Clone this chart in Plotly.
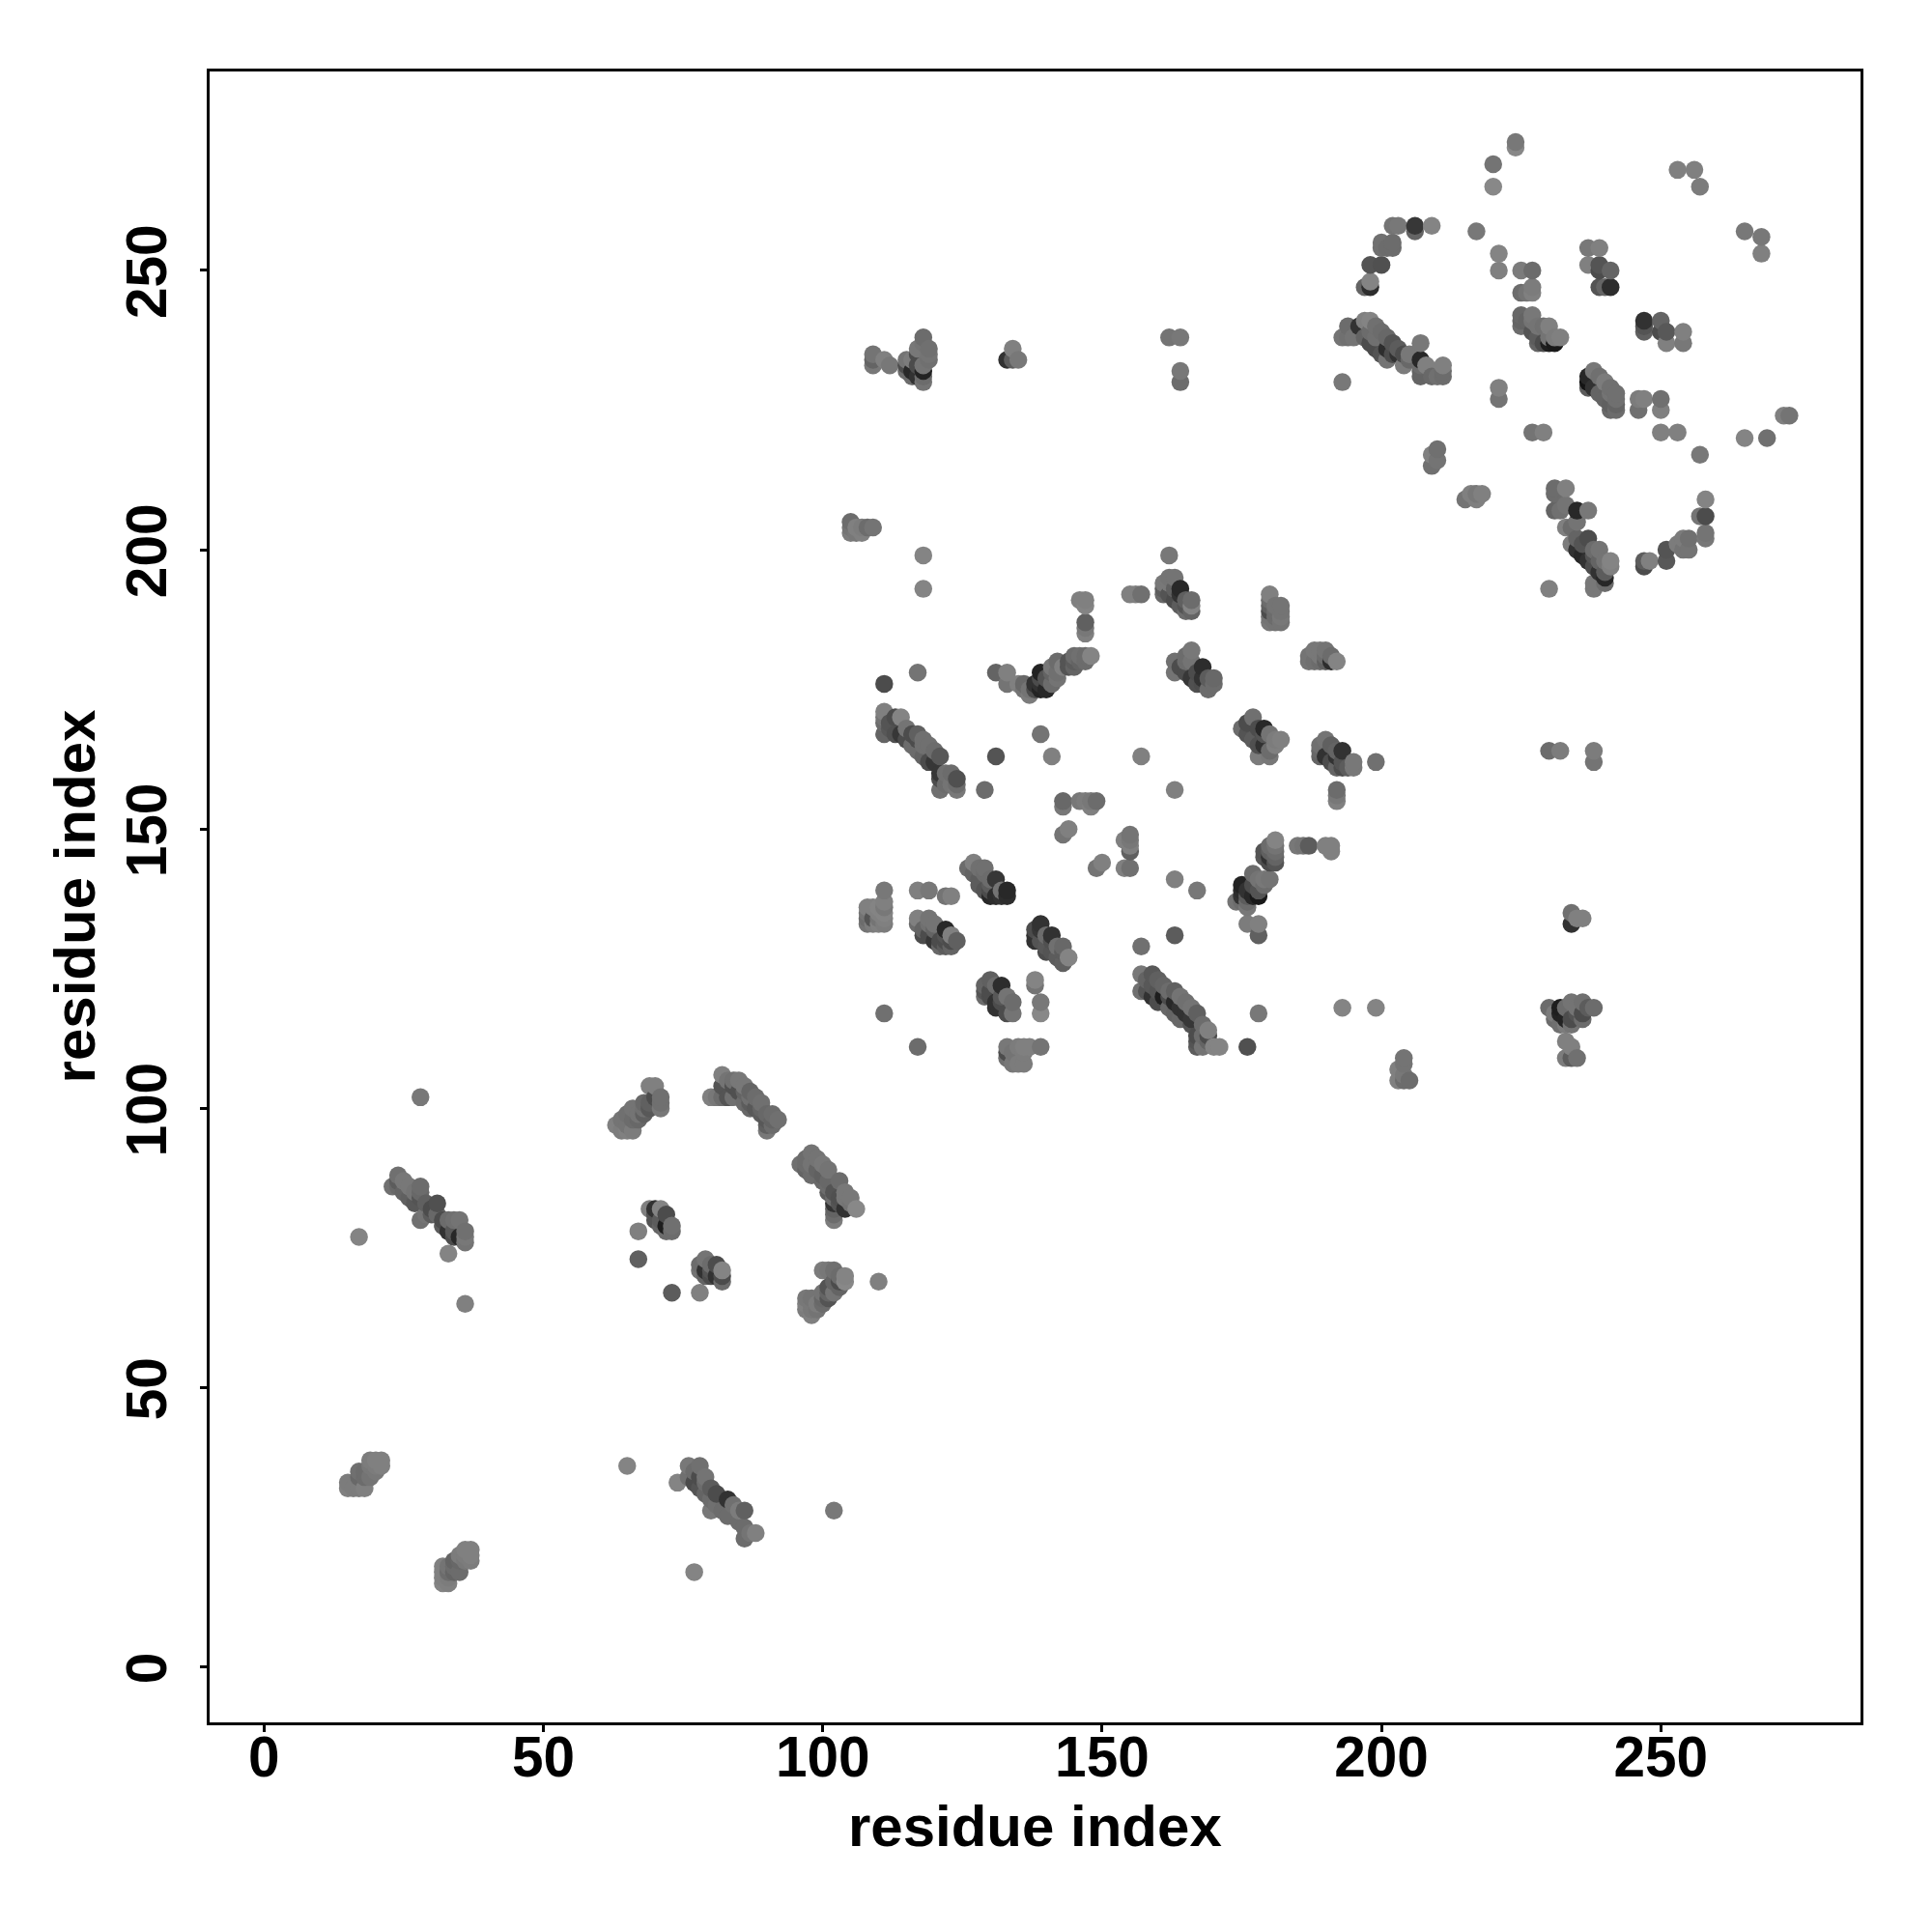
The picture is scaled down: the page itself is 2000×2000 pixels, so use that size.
import plotly.graph_objects as go

# Each contact: (residue index x, residue index y, grey level of the dot)
helix_a = [(15,32,125),(15,33,120),(16,32,120),(17,32,120),(18,32,125),(17,34,95),(18,34,100),(17,35,105),(18,35,100),(19,34,110),(19,36,115),(20,35,115),(20,36,120),(20,37,125),(19,37,120),(21,36,125),(21,37,125)]
helix_b = [(32,15,130),(33,15,125),(32,16,125),(33,16,120),(32,17,125),(32,18,125),(33,18,110),(34,17,90),(34,18,100),(34,19,90),(35,17,100),(35,19,95),(35,20,120),(36,19,115),(36,20,120),(36,21,125),(37,19,120),(37,20,125),(37,21,125),(33,17,100)]
strip_c = [(23,86,105),(24,86,95),(24,87,80),(24,88,105),(25,85,90),(25,87,115),(26,84,85),(26,86,115),(27,85,110),(27,83,75),(28,84,70),(28,85,95),(28,86,100),(29,83,85),(29,81,110),(28,80,105),(30,82,60),(30,81,80),(31,83,65),(31,81,95),(32,80,60),(32,79,80),(33,80,100),(33,78,50),(34,77,60),(34,78,75),(34,80,105),(35,77,40),(35,80,110),(36,76,110),(36,77,115),(36,78,105)]
lone_low = [(17,77,130),(28,102,115),(33,74,130),(36,65,125),(65,36,130),(77,17,130),(102,28,115),(67,78,125),(67,73,85),(73,67,80),(78,67,125),(110,69,125)]
strip_low_right = [(74,33,130),(76,34,105),(76,36,115),(77,33,60),(77,35,100),(78,32,70),(78,34,60),(78,36,105),(79,31,90),(79,33,100),(79,34,110),(80,28,115),(80,30,100),(80,32,80),(81,29,105),(81,31,60),(82,28,100),(83,27,100),(83,30,50),(84,29,105),(85,26,100),(85,28,120),(86,23,100),(86,25,100),(86,28,85),(87,24,110),(88,24,125)]
cluster_d = [(63,97,125),(64,96,120),(65,96,125),(64,98,110),(65,97,110),(66,96,120),(65,99,105),(66,98,100),(66,100,110),(67,98,95),(67,99,110),(68,99,85),(68,101,95),(68,100,105),(69,100,75),(69,101,85),(70,102,60),(69,104,125),(70,104,125),(71,100,115),(71,101,105),(71,102,105)]
strip_e = [(80,102,125),(81,102,115),(82,102,100),(82,104,70),(82,106,125),(83,102,70),(83,105,110),(84,102,105),(84,104,65),(84,105,105),(85,103,65),(85,105,115),(86,101,100),(86,103,90),(86,104,115),(87,100,95),(87,101,80),(87,102,105),(87,103,90),(88,100,75),(88,102,100),(89,99,80),(89,100,90),(89,101,105),(90,96,115),(90,97,85),(90,98,75),(90,99,95),(91,97,100),(91,98,90),(91,99,100),(92,98,105)]
strip_f = [(96,90,105),(97,89,90),(97,90,100),(97,91,100),(98,88,100),(98,90,110),(98,92,110),(99,89,90),(99,91,110),(100,87,95),(100,88,85),(100,90,115),(101,85,80),(101,86,100),(101,87,95),(101,89,110),(102,80,120),(102,81,100),(102,82,90),(102,83,50),(102,84,100),(102,85,70),(103,83,70),(103,84,65),(103,87,100),(104,82,50),(104,84,115),(104,85,115),(105,83,110),(105,84,115),(106,82,135)]
cluster_g = [(69,82,125),(70,80,70),(70,81,70),(70,82,50),(71,79,90),(71,80,80),(71,82,130),(72,78,100),(72,79,30),(72,81,60),(73,78,100),(73,79,105)]
cluster_h = [(78,71,110),(78,72,100),(79,70,90),(79,71,50),(79,73,110),(80,70,60),(80,71,70),(80,72,100),(81,70,50),(81,72,60),(82,69,100),(82,70,60),(82,71,130)]
cluster_i = [(97,64,120),(97,65,125),(97,66,115),(98,63,125),(98,64,115),(98,65,115),(98,66,110),(99,64,110),(99,65,120),(100,65,100),(100,66,95),(100,67,110),(100,71,120),(101,66,70),(101,67,90),(101,68,70),(101,71,115),(102,67,110),(102,69,90),(102,71,105),(103,68,90),(103,69,60),(103,70,100),(104,69,135),(104,70,130)]
cluster_j = [(108,133,110),(108,134,100),(108,135,110),(108,136,125),(109,133,120),(109,134,70),(109,136,125),(110,133,125),(110,134,110),(110,135,125),(110,136,130),(111,133,120),(111,134,125),(111,135,130),(111,136,115),(111,137,125),(111,139,115)]
cluster_k = [(117,133,100),(117,134,125),(118,131,60),(118,132,90),(119,131,60),(119,133,105),(119,134,110),(120,130,55),(120,132,90),(120,133,110),(121,129,95),(121,130,60),(122,129,80),(122,130,60),(122,131,70),(122,132,40),(123,129,90),(123,130,60),(123,131,125),(124,130,85)]
cluster_l = [(126,143,100),(127,142,90),(127,144,125),(128,140,80),(128,141,80),(128,143,105),(129,139,70),(129,142,100),(129,143,105),(130,138,40),(130,139,60),(130,140,80),(130,141,100),(131,138,45),(131,141,55),(132,138,50),(132,139,110),(133,138,45),(133,139,40)]
cluster_m = [(129,120,100),(129,121,70),(129,122,90),(130,120,60),(130,121,60),(130,123,85),(131,118,50),(131,119,50),(131,122,100),(132,118,50),(132,119,60),(132,120,75),(132,122,45),(133,117,60),(133,120,110),(134,117,110),(134,119,100)]
cluster_n = [(133,109,105),(133,110,60),(133,111,115),(134,108,115),(134,110,110),(135,108,120),(135,111,120),(136,108,120),(136,110,120),(136,111,125),(137,111,125),(139,111,110),(138,122,110),(138,123,130),(139,117,135),(139,119,115)]
cluster_o = [(138,130,50),(138,131,50),(138,132,60),(139,130,70),(139,132,55),(139,133,50),(140,128,60),(140,129,75),(140,131,100),(141,128,70),(141,130,65),(141,131,50),(142,127,80),(142,129,105),(143,126,85),(143,128,80),(143,129,95),(144,127,130)]
strip_p = [(157,121,105),(157,124,115),(158,121,70),(158,123,90),(159,120,50),(159,122,75),(159,124,75),(160,119,60),(160,121,70),(160,123,85),(161,120,30),(161,122,90),(162,118,95),(162,120,60),(162,121,100),(163,117,90),(163,119,40),(163,121,85),(164,116,95),(164,118,50),(164,120,110),(165,117,50),(165,119,105),(166,115,70),(166,116,55),(166,118,110),(167,111,80),(167,112,70),(167,113,60),(167,117,85),(168,111,110),(168,113,100),(168,115,100),(169,112,90),(169,113,60),(169,114,125),(170,111,130),(171,111,130)]
lone_mid = [(111,117,105),(117,111,100),(117,139,125),(119,139,115),(122,138,110),(123,138,125),(176,111,65),(178,117,115),(157,129,105),(163,131,80),(163,141,125),(167,139,115),(149,143,110),(150,144,125),(154,143,125),(155,143,105),(154,148,125),(155,149,110),(155,148,115),(155,147,125),(155,146,85),(143,149,110),(144,150,125),(143,154,115),(143,155,95),(146,155,115),(147,155,120),(148,154,125),(148,155,115),(149,155,100),(129,157,100),(131,163,70),(139,167,110),(141,163,125),(157,163,125),(163,157,125),(117,178,110),(111,176,60),(118,199,130),(118,193,130)]
strip_q = [(111,167,90),(111,169,100),(111,170,110),(111,171,125),(112,168,75),(112,169,70),(113,167,65),(113,170,60),(114,167,55),(114,170,130),(115,166,60),(115,168,110),(116,165,100),(116,167,60),(117,164,100),(117,166,60),(117,167,85),(118,163,90),(118,165,105),(118,166,105),(119,162,60),(119,165,105),(120,162,55),(120,164,100),(121,157,105),(121,159,60),(121,160,55),(121,163,75),(122,158,100),(122,160,105),(123,158,110),(123,160,100),(124,157,115),(124,158,100),(124,159,65)]
arc_r = [(131,178,90),(133,176,110),(133,178,125),(135,176,125),(136,175,110),(136,176,95),(137,174,120),(137,175,110),(138,175,60),(138,176,50),(139,175,35),(139,176,50),(139,177,60),(139,178,35),(140,175,40),(140,177,70),(141,176,100),(141,178,90),(141,179,115),(142,177,110),(142,178,105),(142,180,100),(143,179,125),(144,179,70),(144,180,70),(145,179,90),(145,180,80),(145,181,100),(146,180,90),(146,181,105),(147,180,100),(147,181,100),(148,181,130),(146,191,125),(147,191,125),(147,190,130),(147,185,125),(147,186,115),(147,187,85),(155,192,125),(156,192,125),(157,192,105)]
cluster_s = [(161,192,95),(161,193,80),(161,194,115),(162,192,70),(162,194,115),(162,195,110),(162,199,115),(163,191,60),(163,193,85),(163,195,110),(164,190,80),(164,192,50),(164,193,40),(165,189,100),(165,190,70),(165,191,85),(166,189,90),(166,190,130),(166,191,100)]
cluster_t = [(163,178,110),(163,180,105),(164,179,60),(165,178,60),(165,180,100),(165,181,100),(166,177,55),(166,180,110),(166,182,115),(167,176,65),(167,178,60),(168,176,60),(168,177,50),(168,179,45),(169,175,100),(169,177,80),(170,176,100),(170,177,95)]
cluster_u = [(180,187,115),(180,188,110),(180,189,60),(180,190,85),(180,191,100),(180,192,125),(181,187,110),(181,188,100),(181,189,100),(181,190,110),(182,187,110),(182,188,115),(182,189,110),(182,190,110)]
cluster_v = [(175,168,100),(176,167,70),(176,169,60),(177,166,80),(177,170,105),(178,163,120),(178,165,65),(178,168,60),(179,165,50),(179,167,70),(179,168,40),(180,163,115),(180,164,100),(180,167,110),(181,165,125),(181,166,120),(182,166,125)]
cluster_w = [(187,180,110),(187,181,110),(188,180,105),(188,182,115),(189,180,100),(189,181,115),(189,182,115),(190,180,85),(190,181,100),(190,182,110),(191,180,45),(191,181,100),(192,180,130),(189,163,90),(189,164,95),(189,165,105),(190,163,50),(190,166,110),(191,162,60),(191,165,85),(192,161,90),(192,163,50),(192,164,90),(193,161,60),(193,162,70),(193,164,50),(194,161,80),(195,161,115),(195,162,115),(199,162,105),(192,155,125),(192,156,115),(192,157,100)]
arc_x = [(174,137,110),(175,137,100),(175,138,50),(175,139,45),(175,140,35),(176,133,120),(176,136,115),(176,137,100),(176,138,80),(176,139,50),(177,138,40),(177,140,60),(177,142,100),(178,131,85),(178,133,125),(178,138,25),(178,139,70),(178,141,110),(179,140,100),(179,141,115),(179,145,75),(179,146,70),(180,141,110),(180,144,60),(180,145,50),(180,146,85),(180,147,100),(181,144,70),(181,145,90),(181,146,100),(181,147,110),(181,148,130),(185,147,115),(186,147,110),(187,147,80),(190,147,125),(191,146,125),(191,147,125)]
lone_right = [(230,193,125),(193,118,130),(199,118,130),(230,164,100),(232,164,120),(238,164,120),(238,162,110),(105,203,120),(105,204,110),(105,205,100),(106,203,115),(106,204,125),(107,203,125),(107,204,120),(108,204,100),(109,204,110)]
cluster_z = [(234,133,50),(234,135,105),(235,134,125),(236,134,125),(230,118,100),(231,116,100),(231,117,120),(232,115,105),(232,117,35),(232,118,30),(233,115,120),(233,116,35),(233,118,100),(234,115,110),(234,116,60),(234,119,110),(235,117,70),(235,118,110),(236,116,100),(236,117,60),(236,119,105),(237,118,80),(238,118,100),(233,109,120),(233,112,125),(234,109,80),(234,111,125),(235,109,105),(203,105,125),(203,107,125),(204,105,100),(204,106,115),(204,108,110),(204,109,110),(205,105,100)]
top_left_row = [(109,233,115),(109,234,90),(109,235,110),(111,234,125),(112,233,115),(115,232,100),(115,233,60),(115,234,110),(116,231,100),(116,232,40),(116,234,120),(117,231,50),(117,233,60),(117,235,60),(117,236,115),(118,230,110),(118,231,100),(118,232,35),(118,233,110),(118,237,110),(118,238,100),(119,234,105),(119,235,110),(119,236,105),(133,234,50),(134,234,80),(134,236,125),(135,234,115),(162,238,110),(164,238,115),(164,230,100),(164,232,115)]
upper_sparse = [(224,272,135),(224,273,115),(220,269,110),(220,265,135),(253,268,125),(256,268,125),(257,265,120),(265,257,115),(268,256,115),(268,253,125),(217,257,115),(221,253,130),(221,250,125),(221,229,125),(221,227,110),(227,221,110),(229,221,125),(225,250,120),(227,250,100),(225,246,100),(226,246,110),(227,246,125),(227,247,120),(250,221,125),(253,221,125),(257,217,115),(265,220,130),(269,220,105),(272,224,125),(273,224,110),(209,215,105),(209,217,125),(210,216,110),(210,218,105),(215,209,110),(216,210,125),(217,209,125),(217,210,115),(218,210,125)]
upper_arc = [(197,247,90),(198,247,45),(198,248,130),(198,251,70),(200,251,65),(200,254,105),(200,255,105),(201,254,100),(202,254,100),(202,255,100),(202,258,110),(203,258,115),(206,257,90),(206,258,55),(209,258,130)]
strip_upper_left = [(193,230,115),(193,238,110),(194,238,105),(194,240,100),(195,238,110),(196,240,50),(197,238,90),(197,241,125),(198,237,60),(198,239,100),(198,241,130),(199,236,60),(199,238,105),(199,240,105),(200,235,70),(200,239,100),(201,234,110),(201,236,45),(201,238,95),(202,235,60),(202,237,70),(203,235,50),(203,236,80),(204,233,120),(204,235,60),(205,234,95),(205,235,115),(207,231,90),(207,232,90),(207,233,100),(207,234,40),(207,237,115),(208,233,125),(209,231,95),(210,231,105),(211,231,100),(211,232,100),(211,233,125)]
upper_blocks = [(237,251,125),(237,254,115),(239,247,70),(239,250,60),(239,251,70),(239,254,125),(240,247,90),(241,247,45),(241,250,90),(247,239,85),(247,240,70),(247,241,50),(250,239,60),(250,241,90),(251,237,125),(251,239,75),(254,237,115),(254,239,125),(246,225,105),(246,227,120),(247,227,125),(250,225,125),(250,227,105)]
strip_upper_mid = [(225,240,100),(225,241,90),(225,242,95),(226,241,90),(227,239,70),(227,241,110),(227,242,115),(228,237,90),(228,238,80),(228,240,110),(229,237,60),(229,240,105),(230,237,30),(230,238,110),(230,240,125),(231,237,25),(231,238,120),(232,238,125)]
strip_upper_right = [(237,229,80),(237,230,20),(237,231,40),(238,229,50),(238,232,115),(239,228,90),(239,231,105),(240,227,90),(240,230,120),(241,225,95),(241,226,85),(241,228,110),(241,229,105),(242,225,100),(242,226,90),(242,227,105),(242,228,105)]
strip_lower_upper = [(231,207,90),(231,210,100),(231,211,100),(232,207,105),(233,204,125),(233,208,110),(233,211,125),(234,201,120),(234,204,100),(235,200,50),(235,202,90),(235,205,110),(235,207,40),(236,199,40),(236,201,70),(237,198,50),(237,202,60),(237,207,115),(238,193,115),(238,194,115),(238,197,60),(238,199,70),(238,200,100),(239,196,50),(239,198,90),(239,200,110),(240,194,100),(240,195,40),(240,196,80),(240,198,110),(241,197,125),(241,198,130)]
right_arc = [(247,197,60),(247,198,80),(248,198,125),(251,198,75),(251,200,70),(253,201,120),(254,200,110),(254,202,120),(255,200,110),(255,202,105),(257,206,110),(258,202,115),(258,203,110),(258,206,60),(258,209,130)]

tick_values = [0, 50, 100, 150, 200, 250]
tick_labels = ["0", "50", "100", "150", "200", "250"]
axis_label = "residue index"

groups = [helix_a, helix_b, strip_c, lone_low, strip_low_right, cluster_d, strip_e, strip_f, cluster_g,
          cluster_h, cluster_i, cluster_j, cluster_k, cluster_l, cluster_m, cluster_n, cluster_o, strip_p,
          lone_mid, strip_q, arc_r, cluster_s, cluster_t, cluster_u, cluster_v, cluster_w, arc_x, lone_right,
          cluster_z, top_left_row, upper_sparse, upper_arc, strip_upper_left, upper_blocks, strip_upper_mid,
          strip_upper_right, strip_lower_upper, right_arc]
contacts = sorted(c for g in groups for c in g)
xs = [c[0] for c in contacts]
ys = [c[1] for c in contacts]


def shade(level):
    # light and mid dots are paler on the page than first read; very dark ones stay
    tone = level if level < 60 else round(140 - (140 - level) * 0.8)
    return f"rgb({tone},{tone},{tone})"


colours = [shade(c[2]) for c in contacts]

FONT = "Liberation Sans"
fig = go.Figure(go.Scatter(x=xs, y=ys, mode="markers", showlegend=False,
                           marker=dict(size=18.5, color=colours, line=dict(width=0))))
axis = dict(tickmode="array", tickvals=tick_values, ticktext=tick_labels,
            showgrid=False, zeroline=False, showline=True, mirror=True, linecolor="black", linewidth=3,
            ticks="outside", ticklen=7, tickwidth=3, tickcolor="black",
            tickfont=dict(family=FONT, size=58.5, color="black", weight="bold"))
title_font = dict(family=FONT, size=60, color="black", weight="bold")
fig.update_layout(width=2000, height=2000, autosize=False, paper_bgcolor="white", plot_bgcolor="white",
                  margin=dict(l=0, r=0, t=0, b=0),
                  xaxis=dict(axis, range=[-9.70, 285.65], domain=[217.2/2000, 1925.5/2000], ticklabelstandoff=-24,
                             title=dict(text=axis_label, standoff=20, font=title_font)),
                  yaxis=dict(axis, range=[-9.82, 285.7], domain=[1-1782.5/2000, 1-73.5/2000], tickangle=-90,
                             ticklabelstandoff=12, ticklabelshift=10,
                             title=dict(text=axis_label, standoff=1, font=title_font)))
fig.write_html("out.html", config={"displayModeBar": False}, post_script="document.body.style.margin='0';")
